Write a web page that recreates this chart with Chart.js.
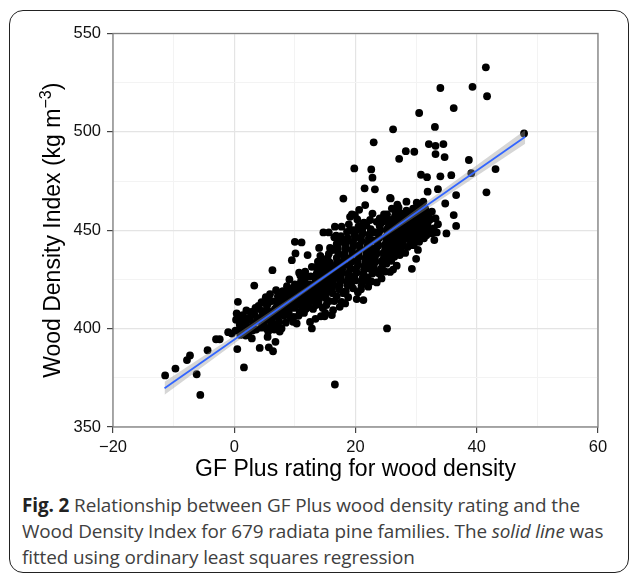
<!DOCTYPE html>
<html>
<head>
<meta charset="utf-8">
<script src="https://cdn.jsdelivr.net/npm/chart.js@4.4.1/dist/chart.umd.min.js"></script>
<style>
  html, body { margin:0; padding:0; background:#fff; width:630px; height:578px; overflow:hidden; }
  #frame { position:absolute; left:9px; top:10px; width:620px; height:563px; border:1.6px solid #222; border-radius:14px; box-sizing:border-box; }
  #wrap { position:absolute; left:0; top:0; width:630px; height:490px; }
  #cap { position:absolute; left:22px; top:492px; font-family:"Open Sans", "Noto Sans", sans-serif; font-size:18.9px; line-height:26px; color:#404040; white-space:nowrap; letter-spacing:-0.1px; }
  #cap b { color:#222; font-weight:700; }
</style>
</head>
<body>
<div id="frame"></div>
<div id="wrap"><canvas id="c" width="630" height="490"></canvas></div>
<div id="cap"><b>Fig. 2</b> Relationship between GF Plus wood density rating and the<br>Wood Density Index for 679 radiata pine families. The <i>solid line</i> was<br>fitted using ordinary least squares regression</div>
<script>
// ---- data (GF Plus rating, Wood Density Index) ----
const familyPoints = [
  [-11.4,376.2],[-9.7,379.7],[-7.8,384.0],[-7.3,386.4],[-6.2,376.8],[-5.6,366.3],[-4.4,389.0],[-3.0,394.6],[-2.4,394.6],[-1.0,398.2],[-0.4,397.5],
  [0.6,413.6],[0.4,407.7],[0.5,389.6],[1.6,380.3],[2.9,395.0],[3.3,421.9],[0.3,404.5],[0.9,402.0],[1.2,399.5],[0.2,399.0],[1.7,403.5],[2.2,401.0],[2.6,404.8],[3.1,402.5],[1.4,406.8],[2.0,409.2],[3.4,406.9],[3.8,404.0],[2.4,398.2],[3.6,399.5],[1.0,396.8],[2.8,408.5],[3.9,410.0],
  [0.8,405.5],[1.5,401.5],[2.3,405.5],[3.0,399.0],[3.5,410.5],[1.9,396.5],
  [4.2,390.2],[5.7,390.5],[6.4,388.5],[6.8,393.3],[6.3,429.7],[5.3,400.1],[5.6,398.5],[6.6,399.5],[7.5,398.5],[4.8,413.1],[5.5,395.8],[7.8,400.1],[5.9,400.6],
  [4.3,405.5],[4.6,409.0],[4.9,402.5],[5.1,407.0],[5.4,411.5],[5.8,404.5],[6.0,408.5],[6.2,414.0],[6.5,402.5],[6.8,406.5],[7.0,411.0],[7.2,416.5],[7.4,403.5],[7.7,408.5],[7.9,413.5],[8.0,419.0],[4.0,411.5],[4.4,400.5],[5.2,416.0],[6.9,419.5],
  [4.5,413.5],[5.0,404.5],[5.3,409.0],[5.6,413.0],[5.9,417.5],[6.1,403.0],[6.4,406.0],[6.7,410.0],[7.0,414.0],[7.3,407.0],[7.6,411.5],[7.8,416.0],[7.1,402.0],[4.7,407.0],
  [10.0,444.1],[11.1,443.8],[10.1,438.2],[9.5,434.8],[12.1,437.4],[10.7,428.4],[8.7,421.6],[12.8,431.4],[13.8,434.0],
  [10.3,402.6],[12.8,400.1],[12.5,403.4],
  [8.2,406.5],[8.4,410.5],[8.6,414.5],[8.9,418.0],[9.0,408.0],[9.2,412.5],[9.4,416.5],[9.6,420.5],[9.8,406.0],[10.0,410.5],[10.2,414.0],[10.4,418.0],[10.6,422.0],[10.8,408.5],[11.0,412.5],[11.2,416.5],[11.4,420.5],[11.6,424.5],[11.8,410.0],[12.0,414.5],[12.2,418.5],[12.4,422.5],[12.6,426.5],[9.1,425.0],[10.9,427.0],[8.1,414.0],[11.5,408.0],[12.3,411.0],[9.7,403.5],[8.5,403.0],
  [8.3,408.5],[8.5,412.5],[8.8,416.0],[9.0,420.0],[9.3,410.5],[9.5,414.5],[9.8,418.5],[10.0,422.5],[10.3,412.0],[10.5,416.0],[10.7,420.0],[11.0,424.0],[11.3,410.0],[11.3,414.5],[11.5,418.5],[11.8,422.5],[12.0,426.5],[11.9,416.5],[12.1,412.5],[12.5,416.5],[12.7,420.5],[9.3,405.5],[10.6,406.5],[11.7,429.0],[8.3,417.5],
  [14.7,448.9],[15.6,448.9],[16.6,451.8],[17.7,451.8],[16.8,447.2],[16.5,446.4],
  [14.3,406.3],[14.9,406.3],[15.0,408.0],[16.1,406.9],[16.3,409.4],[17.4,411.1],[18.3,412.8],[17.7,413.6],
  [12.9,414.0],[13.1,418.0],[13.3,422.0],[13.5,426.0],[13.7,430.0],[13.0,410.0],[13.9,413.0],[14.1,417.0],[14.3,421.0],[14.5,425.0],[14.7,429.0],[14.9,433.0],[14.2,437.0],[15.1,415.5],[15.3,419.5],[15.5,423.5],[15.7,427.5],[15.9,431.5],[15.2,412.0],[15.4,436.0],[16.0,440.0],[16.2,418.0],[16.4,422.0],[16.6,426.0],[16.8,430.0],[17.0,434.0],[16.5,414.0],[17.2,438.0],[15.8,441.0],[13.4,405.0],[14.0,441.0],[16.9,443.0],
  [13.0,416.0],[13.2,420.0],[13.4,424.0],[13.6,428.0],[13.8,432.0],[13.5,412.0],[14.0,415.0],[14.2,419.0],[14.4,423.0],[14.6,427.0],[14.8,431.0],[14.5,435.0],[15.0,417.5],[15.2,421.5],[15.4,425.5],[15.6,429.5],[15.8,433.5],[15.6,438.0],[16.1,420.0],[16.3,424.0],[16.5,428.0],[16.7,432.0],[16.9,436.0],[16.4,440.0],[16.9,416.5],[17.1,441.0],[15.7,414.0],[14.6,410.5],[17.3,444.5],[17.0,426.0],
  [19.1,456.8],[19.9,457.7],[19.4,458.1],[20.6,460.4],[21.6,462.8],[21.4,453.8],[18.0,466.1],[19.8,481.4],[22.6,480.9],[22.8,476.7],[21.5,471.3],[23.2,470.8],[23.0,494.7],
  [20.2,415.0],[21.3,414.5],[22.1,421.3],[23.5,423.5],[25.2,400.1],[16.6,371.6],
  [17.3,420.0],[17.5,424.0],[17.7,428.0],[17.9,432.0],[18.1,436.0],[18.3,440.0],[18.5,444.0],[17.6,447.0],[18.0,418.0],[18.7,422.0],[18.9,426.0],[19.1,430.0],[19.3,434.0],[19.5,438.0],[19.7,442.0],[19.9,446.0],[19.2,450.0],[19.6,420.5],[20.0,424.5],[20.2,428.5],[20.4,432.5],[20.6,436.5],[20.8,440.5],[21.0,444.5],[21.2,448.5],[20.5,452.0],[20.9,420.0],[21.1,424.0],[21.3,428.0],[21.5,432.0],[21.7,436.0],[21.9,440.0],[22.1,444.0],[22.3,448.0],[21.8,452.5],[22.0,426.0],[22.2,430.5],[22.4,435.0],[22.6,439.0],[18.6,449.2],[19.7,450.1],[22.4,455.2],[21.3,453.5],[18.8,416.0],
  [17.4,422.0],[17.6,426.0],[17.8,430.0],[18.0,434.0],[18.2,438.0],[18.4,442.0],[18.7,446.0],[18.4,419.0],[18.6,424.0],[18.8,428.0],[19.0,432.0],[19.2,436.0],[19.4,440.0],[19.6,444.0],[19.8,448.0],[19.3,423.0],[19.8,426.5],[20.1,430.5],[20.3,434.5],[20.5,438.5],[20.7,442.5],[20.9,446.5],[21.1,450.5],[20.4,418.5],[21.0,422.0],[21.2,426.0],[21.4,430.0],[21.6,434.0],[21.8,438.0],[22.0,442.0],[22.2,446.0],[22.5,450.5],[21.6,424.5],[22.3,433.0],[22.5,437.0],[22.7,441.0],[22.9,445.0],[23.1,449.0],[22.6,424.0],[17.9,444.0],[18.9,453.0],[20.3,455.5],[22.8,458.5],[20.0,449.5],
  [25.8,466.2],[27.1,461.6],[28.4,464.5],[25.7,455.2],[25.2,458.1],[24.0,456.0],[23.5,454.3],[28.4,456.8],[27.3,458.6],
  [25.7,428.8],[29.3,430.4],[30.0,435.5],[27.3,437.4],[29.0,442.4],[29.6,442.4],[30.5,444.1],[31.3,445.9],[31.7,447.5],
  [22.8,428.0],[23.0,432.0],[23.2,436.0],[23.4,440.0],[23.6,444.0],[23.8,448.0],[24.0,452.0],[24.2,430.5],[24.4,434.5],[24.6,438.5],[24.8,442.5],[25.0,446.5],[25.2,450.5],[25.4,454.5],[24.7,458.0],[25.1,433.0],[25.5,437.0],[25.7,441.0],[25.9,445.0],[26.1,449.0],[26.3,453.0],[26.5,457.0],[26.0,461.0],[26.4,436.5],[26.7,440.5],[26.9,444.5],[27.1,448.5],[27.3,452.5],[27.5,456.5],[27.7,442.0],[27.9,446.0],[28.1,450.0],[28.3,454.0],[28.5,458.0],[24.3,425.5],[26.8,432.0],
  [23.1,430.0],[23.3,434.0],[23.5,438.0],[23.7,442.0],[23.9,446.0],[24.1,450.0],[24.3,454.0],[23.9,428.0],[24.5,432.5],[24.7,436.5],[24.9,440.5],[25.1,444.5],[25.3,448.5],[25.5,452.5],[25.0,456.5],[25.3,435.0],[25.6,439.0],[25.8,443.0],[26.0,447.0],[26.2,451.0],[26.4,455.0],[26.6,459.0],[25.9,434.5],[26.5,438.5],[26.8,442.5],[27.0,446.5],[27.2,450.5],[27.4,454.5],[27.6,458.5],[26.9,463.0],[27.4,440.0],[27.8,444.0],[28.0,448.0],[28.2,452.0],[28.4,460.0],[28.6,441.5],[24.9,429.0],[26.2,430.0],
  [28.7,445.5],[28.9,449.5],[29.1,453.5],[29.3,457.5],[29.5,461.0],[29.8,447.0],[30.0,451.0],[30.2,455.0],[30.4,459.0],[30.8,449.5],[31.0,453.5],[31.2,457.5],[31.5,461.0],[32.0,451.0],[32.3,455.5],[32.6,459.5],[33.4,448.9],[32.6,448.4],[33.6,453.1],[35.0,448.4],[33.0,445.0],
  [28.8,447.5],[29.0,451.5],[29.2,455.5],[29.4,459.0],[29.7,445.0],[29.9,449.0],[30.1,453.0],[30.3,457.0],[30.6,461.5],[30.6,447.5],[30.9,451.5],[31.1,455.5],[31.4,459.5],[31.5,450.0],[31.9,453.5],[32.1,457.5],[32.9,451.0],[33.2,456.0],[30.3,440.0],[28.2,438.5],
  [31.9,469.6],[33.6,470.9],[34.8,463.6],[36.6,467.9],[36.2,457.7],[36.6,452.2],[41.6,469.3],[30.8,478.2],[31.8,477.0],[34.0,477.4],[35.8,478.0],[30.1,464.0],[31.2,464.5],[31.7,455.2],[31.8,458.6],
  [41.5,532.8],[34.0,522.3],[39.3,522.9],[41.7,518.1],[36.2,512.1],[30.5,509.6],[26.2,501.3],[33.1,502.5],[32.1,493.8],[33.2,492.9],[34.5,493.8],[28.3,490.2],[29.7,489.9],[27.2,486.3],[33.2,488.7],[34.7,487.2],[38.7,485.7],[47.8,499.2],[39.1,479.0],[43.1,481.1],[25.7,466.4]
];

// OLS fitted line end points and its confidence ribbon
const fitX = [-11.5, 48.0];
const fitY = [369.7, 497.5];
const ribbonX = [-11.5, 0, 10, 17, 25, 35, 48];
const ribbonLow = [366.4, 392.4, 414.7, 430.0, 446.9, 467.4, 494.0];
const ribbonHigh = [373.0, 396.4, 417.1, 431.8, 449.3, 471.8, 501.0];

const xMajorTicks = [-20, 0, 20, 40, 60];
const yMajorTicks = [350, 400, 450, 500, 550];
const xTitle = 'GF Plus rating for wood density';
const yTitleMain = 'Wood Density Index (kg m';
const yTitleSup = '\u22123';
const yTitleEnd = ')';

// ---- chart ----
const fmt = v => (v < 0 ? '\u2212' + Math.abs(v) : String(v));
const isMajorX = v => xMajorTicks.includes(v);
const isMajorY = v => yMajorTicks.includes(v);
const FONT = '"Liberation Sans", Arial, sans-serif';

const titlesPlugin = {
  id: 'titles',
  afterDraw(chart) {
    const { ctx, chartArea: a } = chart;
    ctx.save();
    ctx.strokeStyle = '#7f7f7f';
    ctx.lineWidth = 1.3;
    ctx.strokeRect(a.left, a.top, a.right - a.left, a.bottom - a.top);
    ctx.fillStyle = '#000';
    ctx.font = '23px ' + FONT;
    ctx.textAlign = 'center';
    ctx.textBaseline = 'alphabetic';
    ctx.fillText(xTitle, (a.left + a.right) / 2, a.bottom + 49);
    const cy = (a.top + a.bottom) / 2;
    ctx.translate(a.left - 53, cy);
    ctx.rotate(-Math.PI / 2);
    ctx.textAlign = 'left';
    ctx.font = '23px ' + FONT;
    const w1 = ctx.measureText(yTitleMain).width;
    const w3 = ctx.measureText(yTitleEnd).width;
    ctx.font = '16px ' + FONT;
    const w2 = ctx.measureText(yTitleSup).width;
    const total = w1 + w2 + w3;
    const x0 = -total / 2;
    ctx.font = '23px ' + FONT;
    ctx.fillText(yTitleMain, x0, 0);
    ctx.font = '16px ' + FONT;
    ctx.fillText(yTitleSup, x0 + w1, -9);
    ctx.font = '23px ' + FONT;
    ctx.fillText(yTitleEnd, x0 + w1 + w2, 0);
    ctx.restore();
  }
};

new Chart(document.getElementById('c'), {
  type: 'scatter',
  data: {
    datasets: [
      {
        type: 'line',
        data: fitX.map((x, i) => ({ x, y: fitY[i] })),
        borderColor: '#3366FF', borderWidth: 1.8, pointRadius: 0, fill: false, tension: 0, order: 0
      },
      {
        type: 'line',
        data: ribbonX.map((x, i) => ({ x, y: ribbonHigh[i] })),
        borderWidth: 0, borderColor: 'rgba(0,0,0,0)', pointRadius: 0, fill: false, tension: 0, order: 1
      },
      {
        type: 'line',
        data: ribbonX.map((x, i) => ({ x, y: ribbonLow[i] })),
        borderWidth: 0, borderColor: 'rgba(0,0,0,0)', pointRadius: 0, fill: '-1',
        backgroundColor: 'rgba(153,153,153,0.4)', tension: 0, order: 1
      },
      {
        data: familyPoints.map(p => ({ x: p[0], y: p[1] })),
        backgroundColor: '#000', borderWidth: 0, pointRadius: 3.9, pointHoverRadius: 3.9, order: 2
      }
    ]
  },
  options: {
    responsive: false,
    animation: false,
    events: [],
    layout: { padding: { left: 0, top: 33.5, right: 32, bottom: 0 } },
    plugins: { legend: { display: false }, tooltip: { enabled: false } },
    scales: {
      x: {
        type: 'linear', min: -20, max: 60,
        afterFit: s => { s.height = 63; },
        ticks: {
          stepSize: 10, autoSkip: false, maxRotation: 0, padding: 5,
          color: '#111', font: { family: FONT, size: 16.5 },
          callback: v => (isMajorX(v) ? fmt(v) : '')
        },
        grid: {
          color: c => (isMajorX(c.tick.value) ? '#e4e4e4' : '#f3f3f3'),
          lineWidth: c => (isMajorX(c.tick.value) ? 1.2 : 1),
          tickColor: c => (isMajorX(c.tick.value) ? '#444' : 'rgba(0,0,0,0)'),
          tickLength: 6, drawTicks: true
        },
        border: { display: false }
      },
      y: {
        type: 'linear', min: 350, max: 550,
        afterFit: s => { s.width = 113; },
        ticks: {
          stepSize: 25, autoSkip: false, padding: 6,
          color: '#111', font: { family: FONT, size: 16.5 },
          callback: v => (isMajorY(v) ? fmt(v) : '')
        },
        grid: {
          color: c => (isMajorY(c.tick.value) ? '#e4e4e4' : '#f3f3f3'),
          lineWidth: c => (isMajorY(c.tick.value) ? 1.2 : 1),
          tickColor: c => (isMajorY(c.tick.value) ? '#444' : 'rgba(0,0,0,0)'),
          tickLength: 6, drawTicks: true
        },
        border: { display: false }
      }
    }
  },
  plugins: [titlesPlugin]
});
</script>
</body>
</html>
